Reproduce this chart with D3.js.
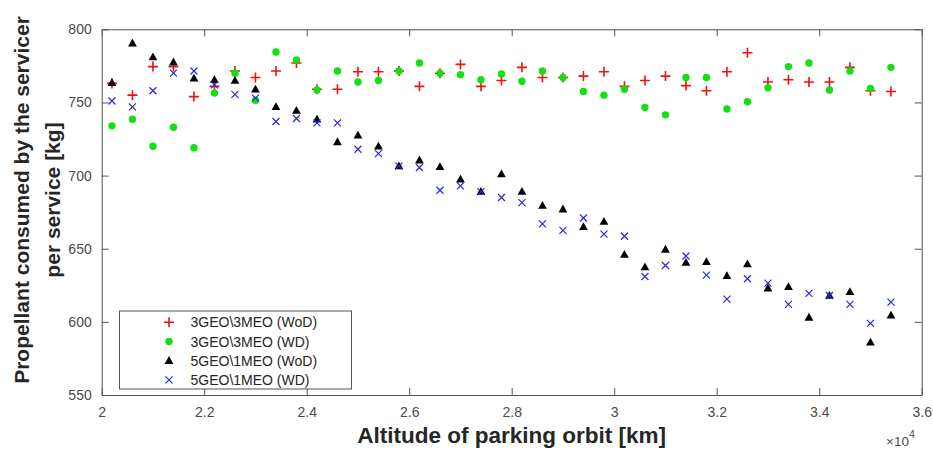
<!DOCTYPE html>
<html>
<head>
<meta charset="utf-8">
<script src="https://cdn.jsdelivr.net/npm/d3@7"></script>
<style>
  body { margin: 0; background: #fff; }
  svg { display: block; font-family: "Liberation Sans", Arial, sans-serif; }
</style>
</head>
<body>
<div id="chart"></div>
<script>
/**
 * DATA
 * */
const altitude = [20200, 20600, 21000, 21400, 21800, 22200, 22600, 23000, 23400, 23800,
  24200, 24600, 25000, 25400, 25800, 26200, 26600, 27000, 27400, 27800,
  28200, 28600, 29000, 29400, 29800, 30200, 30600, 31000, 31400, 31800,
  32200, 32600, 33000, 33400, 33800, 34200, 34600, 35000, 35400];

const geo3WoD = [763, 755, 774.5, 774.5, 754, 761, 771.5, 767, 771.5, 777,
  759, 759, 771, 771, 771.5, 761, 770, 776, 761, 765,
  774, 767, 767, 768, 771, 761, 765, 768, 761.5, 758,
  771, 784, 764, 765.5, 764, 764, 774, 758, 757.5];

const geo3WD = [734, 738.5, 720, 733, 719, 756.5, 770, 751.5, 784.5, 779,
  758.5, 771.5, 764, 765, 771.5, 777, 770, 769, 765.5, 769.5,
  764.5, 771.5, 767, 757.5, 755, 759, 746.5, 741.5, 767, 767,
  745.5, 750.5, 760, 774.5, 777, 758.5, 771.5, 759.5, 774];

const geo5WoD = [763.5, 790.5, 781, 777.5, 766.5, 765.5, 765, 759, 747, 744.5,
  738.5, 723, 727.5, 720, 706.5, 710.5, 706, 697.5, 689, 701,
  689, 679.5, 677, 665, 668.5, 646, 637.5, 649.5, 640.5, 641,
  631.5, 639.5, 623, 624, 603, 618, 620.5, 586, 604.5];

const geo5WD = [751, 747, 758, 770, 771.5, 762, 755.5, 753, 737, 739,
  736, 736, 718, 715, 706.5, 705.5, 690, 693, 689, 685,
  681.5, 667, 662.5, 671, 660, 658.5, 631, 638.5, 645, 632,
  615.5, 629.5, 626.5, 612, 619.5, 618, 612, 599, 613.5];

const seriesNames = ["3GEO\\3MEO (WoD)", "3GEO\\3MEO (WD)", "5GEO\\1MEO (WoD)", "5GEO\\1MEO (WD)"];
const xTicks = [20000, 22000, 24000, 26000, 28000, 30000, 32000, 34000, 36000];
const yTicks = [550, 600, 650, 700, 750, 800];

/**
 * CONSTANTS
 * */
const width = 933, height = 455,
  margin = { top: 29.3, right: 11.3, bottom: 60, left: 101.7 },
  axisColor = "#555", tickTextColor = "#4a4a4a", titleColor = "#262626";

const svg = d3.select("#chart").append("svg")
  .attr("width", width)
  .attr("height", height);

const x = d3.scaleLinear()
  .domain([20000, 36000])
  .range([margin.left, width - margin.right]);
const y = d3.scaleLinear()
  .domain([550, 800])
  .range([height - margin.bottom, margin.top]);

// marker drawers, centred on 0,0
const markers = [
  { color: "#f01010", draw: g => g.append("path").attr("d", "M-5,0H5M0,-5V5")
      .attr("stroke", "#f01010").attr("stroke-width", 1.6).attr("fill", "none") },
  { color: "#12e012", draw: g => g.append("circle").attr("r", 3.7).attr("fill", "#12e012") },
  { color: "#000", draw: g => g.append("path").attr("d", "M0,-4.6L4.4,3.2L-4.4,3.2Z").attr("fill", "#000") },
  { color: "#2626e6", draw: g => g.append("path").attr("d", "M-3.5,-3.5L3.5,3.5M-3.5,3.5L3.5,-3.5")
      .attr("stroke", "#2626e6").attr("stroke-width", 1.2).attr("fill", "none") }
];
const allSeries = [geo3WoD, geo3WD, geo5WoD, geo5WD];

/**
 * AXES
 * */
const tickLen = 7;
const xAxisBottom = g => g
  .attr("transform", `translate(0,${y(550)})`)
  .call(d3.axisBottom(x).tickValues(xTicks).tickSizeInner(-tickLen).tickSizeOuter(0)
    .tickPadding(12).tickFormat(d => d3.format("~g")(d / 10000)));
const xAxisTop = g => g
  .attr("transform", `translate(0,${y(800)})`)
  .call(d3.axisTop(x).tickValues(xTicks).tickSizeInner(-tickLen).tickSizeOuter(0).tickFormat(""));
const yAxisLeft = g => g
  .attr("transform", `translate(${x(20000)},0)`)
  .call(d3.axisLeft(y).tickValues(yTicks).tickSizeInner(-tickLen).tickSizeOuter(0).tickPadding(10));
const yAxisRight = g => g
  .attr("transform", `translate(${x(36000)},0)`)
  .call(d3.axisRight(y).tickValues(yTicks).tickSizeInner(-tickLen).tickSizeOuter(0).tickFormat(""));

[xAxisBottom, xAxisTop, yAxisLeft, yAxisRight].forEach(a => {
  svg.append("g").call(a)
    .call(g => g.select(".domain").attr("stroke", axisColor))
    .call(g => g.selectAll(".tick line").attr("stroke", axisColor))
    .call(g => g.selectAll(".tick text").attr("fill", tickTextColor)
      .attr("font-size", 14).attr("font-family", "Liberation Sans, Arial, sans-serif"));
});

// x10^4 multiplier
svg.append("text")
  .attr("x", 886).attr("y", 446)
  .attr("font-size", 13.5).attr("fill", tickTextColor)
  .text("\u00d710")
  .append("tspan").attr("dy", -8).attr("font-size", 10.5).text("4");

// axis titles
svg.append("text")
  .attr("x", (x(20000) + x(36000)) / 2).attr("y", 443)
  .attr("text-anchor", "middle")
  .attr("font-size", 22.5).attr("font-weight", "bold").attr("fill", titleColor)
  .text("Altitude of parking orbit [km]");

const yTitle = svg.append("g")
  .attr("transform", "translate(0,200) rotate(-90)");
yTitle.append("text").attr("y", 28.5).attr("text-anchor", "middle")
  .attr("font-size", 21).attr("font-weight", "bold").attr("fill", titleColor)
  .text("Propellant consumed by the servicer");
yTitle.append("text").attr("y", 59.5).attr("text-anchor", "middle")
  .attr("font-size", 21).attr("font-weight", "bold").attr("fill", titleColor)
  .text("per service [kg]");

/**
 * POINTS
 * */
allSeries.forEach((values, s) => {
  svg.append("g")
    .selectAll("g")
    .data(values)
    .join("g")
    .attr("transform", (d, i) => `translate(${x(altitude[i])},${y(d)})`)
    .each(function () { markers[s].draw(d3.select(this)); });
});

/**
 * LEGEND
 * */
const legend = svg.append("g");
legend.append("rect")
  .attr("x", 119.5).attr("y", 311)
  .attr("width", 232).attr("height", 78)
  .attr("fill", "#fff").attr("stroke", axisColor);
seriesNames.forEach((name, s) => {
  const row = legend.append("g").attr("transform", `translate(169,${322.3 + s * 19.2})`);
  markers[s].draw(row);
  row.append("text")
    .attr("x", 21.5).attr("y", 5)
    .attr("font-size", 14).attr("fill", titleColor)
    .text(name);
});
</script>
</body>
</html>
